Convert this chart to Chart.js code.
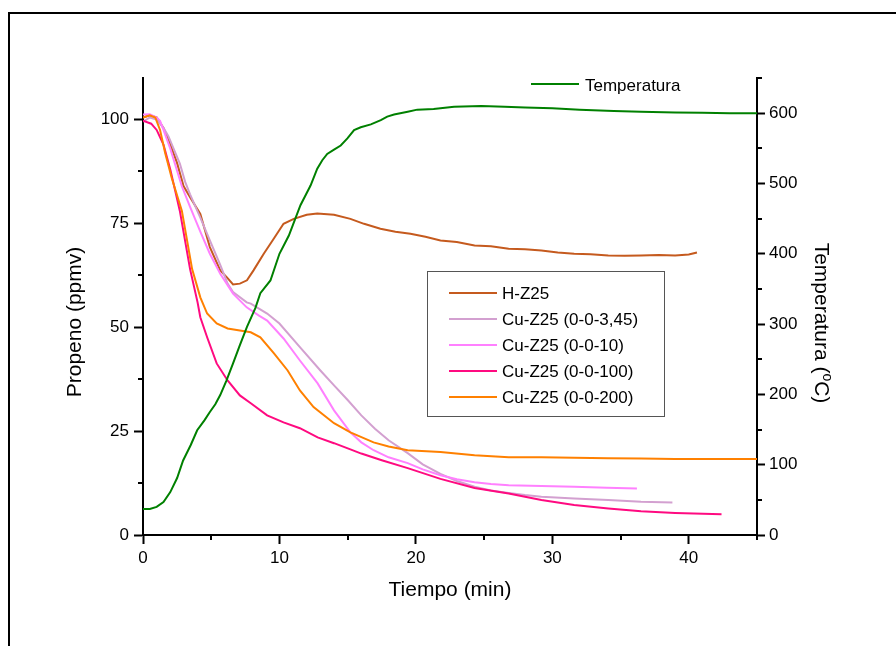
<!DOCTYPE html>
<html>
<head>
<meta charset="utf-8">
<script src="https://cdn.jsdelivr.net/npm/chart.js@4"></script>
<style>
  html, body { margin: 0; padding: 0; background: #fff; }
  canvas { display: block; }
</style>
</head>
<body>
<canvas id="chart" width="896" height="646"></canvas>
<script>
// Propeno conversion vs time, with furnace temperature on a second axis

// time (min) / temperature (ºC)
const tempTime = [0, 0.5, 1, 1.5, 2, 2.5, 2.94, 3.5, 3.97, 4.5, 4.9, 5.3, 5.66, 6.1, 6.6, 7.1, 7.62, 8.24, 8.6, 9.34, 10, 10.69, 11.54, 12.28, 12.77, 13.14, 13.5, 14.0, 14.49, 14.98, 15.47, 15.96, 16.7, 17.43, 17.9, 18.4, 19.4, 20.1, 21.3, 22.8, 24.8, 26.5, 28, 30, 32, 34.5, 36.5, 39, 41, 43, 45];
const tempValues = [37, 37, 40, 47, 61, 81, 106, 128, 149, 163, 175, 186, 199, 219, 244, 270, 296, 323, 344, 362, 400, 426, 469, 497, 521, 533, 542, 548, 554, 564, 576, 580, 584, 590, 595, 598, 602, 605, 606, 609, 610, 609, 608, 607, 605, 603, 602, 601, 600.5, 600, 600];

// H-Z25
const hz25Time = [0, 0.5, 1, 1.5, 2, 2.5, 2.97, 3.45, 4.2, 4.9, 5.66, 6.15, 6.6, 7.1, 7.62, 8.1, 8.85, 9.58, 10.3, 11.05, 12.0, 12.77, 14, 15.2, 16.2, 17.4, 18.5, 19.6, 20.7, 21.8, 23, 24.3, 25.5, 26.8, 28, 29.2, 30.4, 31.6, 32.8, 34.1, 35.3, 36.5, 37.8, 39, 40, 40.6];
const hz25Values = [100.5, 101, 100.5, 98, 94, 89.5, 84, 81.3, 77.3, 69.3, 63.7, 62, 60.3, 60.5, 61.3, 63.7, 67.7, 71.3, 74.9, 76.1, 77.1, 77.4, 77.1, 76.1, 74.9, 73.7, 73, 72.5, 71.8, 70.9, 70.5, 69.7, 69.5, 68.9, 68.8, 68.5, 68, 67.7, 67.6, 67.3, 67.2, 67.3, 67.4, 67.3, 67.5, 68];

// Cu-Z25 (0-0-3,45)
const cu345Time = [0, 0.5, 1, 1.5, 1.86, 2.7, 3.09, 3.45, 4.2, 4.9, 5.66, 6.2, 6.6, 7.6, 7.9, 9.1, 10, 11.5, 13, 14, 15, 16, 17, 18, 19.4, 20.5, 21.8, 23, 24.3, 25.5, 26.8, 28, 29.2, 31.6, 34.1, 36.5, 38.8];
const cu345Values = [99.5, 100.5, 100, 98, 96, 89.4, 85, 82, 76.4, 70.9, 65, 60.5, 58.5, 56, 55.7, 53.3, 50.9, 45.2, 39.6, 36, 32.5, 28.8, 25.6, 22.8, 19.7, 17, 14.7, 13, 11.6, 10.7, 10.1, 9.6, 9.2, 8.8, 8.4, 8, 7.8];

// Cu-Z25 (0-0-10)
const cu10Time = [0, 0.5, 1, 1.25, 1.5, 2, 2.84, 3.45, 4.2, 4.9, 5.66, 6.6, 7.6, 8.5, 9.1, 10.3, 11.5, 12.8, 14, 15.2, 16, 16.9, 18, 19.4, 20.5, 21.8, 23, 24.3, 25.5, 26.8, 29.2, 31.6, 34, 36.2];
const cu10Values = [101.2, 101.3, 100.5, 99.7, 97.5, 93, 84, 79, 73, 67.7, 62.9, 58.1, 54.8, 52.8, 51.6, 47.3, 42, 36.5, 30, 24.7, 22.3, 20.4, 18.7, 17.3, 15.8, 14.4, 13.4, 12.7, 12.3, 12, 11.8, 11.6, 11.4, 11.2];

// Cu-Z25 (0-0-100)
const cu100Time = [0, 0.6, 1, 1.5, 2, 2.7, 3.45, 4, 4.2, 4.7, 5.4, 6.2, 7.1, 7.9, 9.1, 10.3, 11.5, 12.8, 14, 15.2, 16, 17.5, 19.4, 21.8, 24.3, 26.8, 29.2, 31.6, 34.1, 36.5, 39, 42.4];
const cu100Values = [99.7, 99, 97.5, 94, 88, 78, 64, 56, 52.4, 47.6, 41.3, 37.2, 33.6, 31.7, 28.8, 27.1, 25.7, 23.5, 22.1, 20.6, 19.6, 18, 16.1, 13.5, 11.3, 10, 8.4, 7.2, 6.4, 5.7, 5.3, 5.0];

// Cu-Z25 (0-0-200)
const cu200Time = [0, 0.5, 0.9, 1.25, 1.62, 2.1, 2.85, 3.6, 4.2, 4.7, 5.4, 6.2, 7.1, 7.9, 8.6, 9.6, 10.6, 11.5, 12.5, 14, 15.2, 16.9, 18, 19.4, 21.8, 24.3, 26.8, 29.2, 31.6, 34.1, 36.5, 39, 42, 45];
const cu200Values = [100.5, 101, 100.5, 97.5, 92, 86, 78, 64, 57.2, 53.3, 50.9, 49.7, 49.2, 48.8, 47.6, 43.7, 39.6, 34.8, 30.8, 26.9, 24.7, 22.3, 21.3, 20.4, 20, 19.2, 18.7, 18.7, 18.6, 18.5, 18.4, 18.3, 18.3, 18.3];

// axes
const xMinorTicks = [5, 15, 25, 35, 45];
const yMinorTicks = [12.5, 37.5, 62.5, 87.5];
const y1MinorTicks = [50, 150, 250, 350, 450, 550, 650];

const seriesLabels = ["H-Z25", "Cu-Z25 (0-0-3,45)", "Cu-Z25 (0-0-10)", "Cu-Z25 (0-0-100)", "Cu-Z25 (0-0-200)"];
const seriesColors = ["#c55a1e", "#d3a0d0", "#ff80ff", "#ff0a80", "#ff8000"];
const tempColor = "#008000";

const FONT = "'Liberation Sans', Arial, sans-serif";

function pairs(xs, ys) {
  return xs.map((x, i) => ({ x: x, y: ys[i] }));
}

const propenoData = [
  pairs(hz25Time, hz25Values),
  pairs(cu345Time, cu345Values),
  pairs(cu10Time, cu10Values),
  pairs(cu100Time, cu100Values),
  pairs(cu200Time, cu200Values)
];

const datasets = [{
  label: "Temperatura",
  data: pairs(tempTime, tempValues),
  yAxisID: "y1",
  borderColor: tempColor,
  borderWidth: 2,
  pointRadius: 0,
  tension: 0,
  order: 0
}];
propenoData.forEach((d, i) => {
  datasets.push({
    label: seriesLabels[i],
    data: d,
    yAxisID: "y",
    borderColor: seriesColors[i],
    borderWidth: 2,
    pointRadius: 0,
    tension: 0,
    order: 5 - i
  });
});

// frame, minor ticks, axis titles, legends
const decorations = {
  id: "decorations",
  afterDraw(chart) {
    const ctx = chart.ctx;
    const sx = chart.scales.x, sy = chart.scales.y, sy1 = chart.scales.y1;
    const area = chart.chartArea;
    ctx.save();

    // outer frame
    ctx.strokeStyle = "#000";
    ctx.lineWidth = 2;
    ctx.strokeRect(9, 13, 900, 650);

    // minor ticks
    ctx.lineWidth = 2;
    ctx.beginPath();
    xMinorTicks.forEach(v => {
      const p = Math.round(sx.getPixelForValue(v));
      ctx.moveTo(p, area.bottom);
      ctx.lineTo(p, area.bottom + 5);
    });
    yMinorTicks.forEach(v => {
      const p = Math.round(sy.getPixelForValue(v));
      ctx.moveTo(area.left, p);
      ctx.lineTo(area.left - 5, p);
    });
    y1MinorTicks.forEach(v => {
      const p = Math.round(sy1.getPixelForValue(v));
      ctx.moveTo(area.right, p);
      ctx.lineTo(area.right + 5, p);
    });
    ctx.stroke();

    // axis titles
    ctx.fillStyle = "#000";
    ctx.font = "21px " + FONT;
    ctx.textBaseline = "middle";
    ctx.textAlign = "center";
    ctx.fillText("Tiempo (min)", (area.left + area.right) / 2, 590);

    ctx.save();
    ctx.translate(75, 322);
    ctx.rotate(-Math.PI / 2);
    ctx.fillText("Propeno (ppmv)", 0, 0);
    ctx.restore();

    // right title with superscript o
    ctx.save();
    ctx.translate(821, 323);
    ctx.rotate(Math.PI / 2);
    ctx.textAlign = "left";
    const partA = "Temperatura (", partB = "o", partC = "C)";
    ctx.font = "21px " + FONT;
    const wA = ctx.measureText(partA).width, wC = ctx.measureText(partC).width;
    ctx.font = "14px " + FONT;
    const wB = ctx.measureText(partB).width;
    let x0 = -(wA + wB + wC) / 2;
    ctx.font = "21px " + FONT;
    ctx.fillText(partA, x0, 0);
    ctx.font = "14px " + FONT;
    ctx.fillText(partB, x0 + wA, -6);
    ctx.font = "21px " + FONT;
    ctx.fillText(partC, x0 + wA + wB, 0);
    ctx.restore();

    // temperature legend
    ctx.font = "17px " + FONT;
    ctx.textAlign = "left";
    ctx.strokeStyle = tempColor;
    ctx.lineWidth = 2;
    ctx.beginPath();
    ctx.moveTo(531, 84);
    ctx.lineTo(579, 84);
    ctx.stroke();
    ctx.fillText("Temperatura", 585, 86);

    // propeno legend box
    ctx.fillStyle = "#fff";
    ctx.fillRect(427, 271, 237, 145);
    ctx.strokeStyle = "#555";
    ctx.lineWidth = 1;
    ctx.strokeRect(427.5, 271.5, 237, 145);
    seriesLabels.forEach((lab, i) => {
      const y = 293 + i * 26;
      ctx.strokeStyle = seriesColors[i];
      ctx.lineWidth = 2;
      ctx.beginPath();
      ctx.moveTo(449, y);
      ctx.lineTo(497, y);
      ctx.stroke();
      ctx.fillStyle = "#000";
      ctx.fillText(lab, 502, y + 1);
    });

    ctx.restore();
  }
};

const tickFont = { family: FONT, size: 17 };

new Chart(document.getElementById("chart"), {
  type: "line",
  data: { datasets: datasets },
  options: {
    responsive: false,
    animation: false,
    layout: { padding: { top: 78, left: 0, right: 0, bottom: 0 } },
    plugins: { legend: { display: false }, tooltip: { enabled: false } },
    scales: {
      x: {
        type: "linear",
        position: "bottom",
        min: 0,
        max: 45,
        ticks: { stepSize: 10, includeBounds: false, autoSkip: false, maxRotation: 0, color: "#000", font: tickFont, padding: 4 },
        grid: { drawOnChartArea: false, drawTicks: true, tickLength: 9, tickWidth: 2, tickColor: "#000" },
        border: { display: true, color: "#000", width: 2 },
        afterFit(s) { s.height = 111; }
      },
      y: {
        type: "linear",
        position: "left",
        min: 0,
        max: 110,
        ticks: { stepSize: 25, includeBounds: false, autoSkip: false, color: "#000", font: tickFont, padding: 5 },
        grid: { drawOnChartArea: false, drawTicks: true, tickLength: 9, tickWidth: 2, tickColor: "#000" },
        border: { display: true, color: "#000", width: 2 },
        afterFit(s) { s.width = 143; }
      },
      y1: {
        type: "linear",
        position: "right",
        min: 0,
        max: 650,
        ticks: { stepSize: 100, includeBounds: false, autoSkip: false, color: "#000", font: tickFont, padding: 4 },
        grid: { drawOnChartArea: false, drawTicks: true, tickLength: 8, tickWidth: 2, tickColor: "#000" },
        border: { display: true, color: "#000", width: 2 },
        afterFit(s) { s.width = 139; }
      }
    }
  },
  plugins: [decorations]
});
</script>
</body>
</html>
